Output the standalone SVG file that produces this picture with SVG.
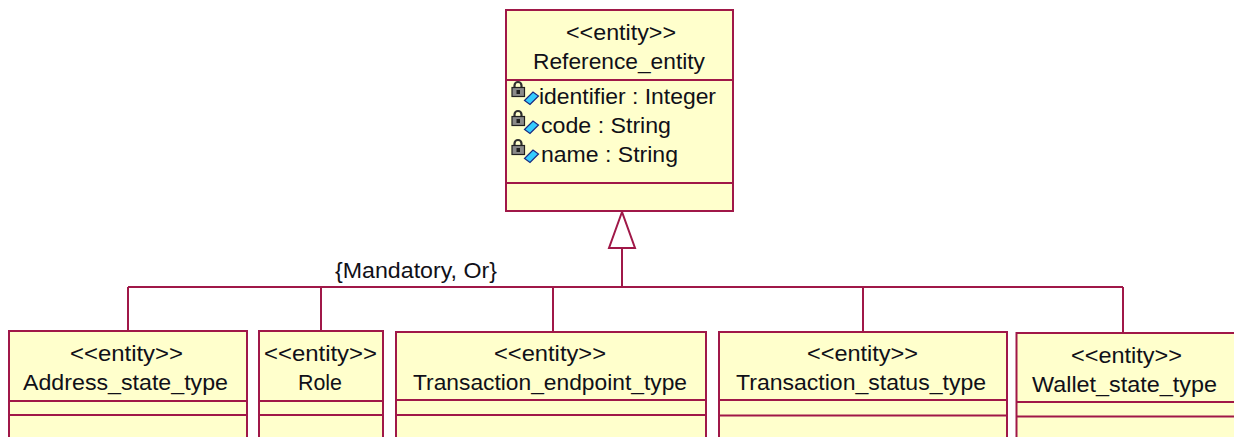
<svg xmlns="http://www.w3.org/2000/svg" xmlns:xlink="http://www.w3.org/1999/xlink" width="1234" height="437" viewBox="0 0 1234 437">
<style>
.box{fill:#FFFFCC;stroke:#A01848;stroke-width:2}
.div{stroke:#A01848;stroke-width:2;fill:none}
.con{stroke:#A01848;stroke-width:2;fill:none}
.t{font-family:"Liberation Sans",Arial,sans-serif;font-size:22px;fill:#101018}
</style>
<defs>
<g id="attrIcon">
<path d="M2.5,8 V4.5 a3.5,3.5 0 0 1 7,0 V8" fill="none" stroke="#303030" stroke-width="2.2"/>
<rect x="0" y="6.5" width="12.5" height="9" fill="#8a8a8a" stroke="#202020" stroke-width="1.2"/>
<rect x="4.5" y="9" width="3.5" height="4" fill="#202020"/>
<polygon points="12.5,19.5 21,11 26.5,15 18,23.5" fill="#33CCFF" stroke="#1a2a80" stroke-width="1.2"/>
</g>
</defs>

<g id="connectors">
<polygon points="622,212 609,248 635,248" fill="#FFFFFF" stroke="#A01848" stroke-width="2"/>
<line class="con" x1="622" y1="248" x2="622" y2="287"/>
<line class="con" x1="128" y1="287" x2="1123" y2="287"/>
<line class="con" x1="128" y1="287" x2="128" y2="331"/>
<line class="con" x1="321" y1="287" x2="321" y2="331"/>
<line class="con" x1="553" y1="287" x2="553" y2="332"/>
<line class="con" x1="863" y1="287" x2="863" y2="332"/>
<line class="con" x1="1123" y1="287" x2="1123" y2="333"/>
<text class="t" x="335" y="278" textLength="162" lengthAdjust="spacingAndGlyphs">{Mandatory, Or}</text>
</g>

<g id="Reference_entity">
<rect class="box" x="506" y="10" width="227" height="201"/>
<line class="div" x1="506" y1="80" x2="733" y2="80"/>
<line class="div" x1="506" y1="183" x2="733" y2="183"/>
<text class="t" x="566" y="40" textLength="110" lengthAdjust="spacingAndGlyphs">&lt;&lt;entity&gt;&gt;</text>
<text class="t" x="533" y="69" textLength="172" lengthAdjust="spacingAndGlyphs">Reference_entity</text>
<use xlink:href="#attrIcon" x="512" y="81"/>
<use xlink:href="#attrIcon" x="512" y="110"/>
<use xlink:href="#attrIcon" x="512" y="139"/>
<text class="t" x="539" y="104" textLength="177" lengthAdjust="spacingAndGlyphs">identifier : Integer</text>
<text class="t" x="541" y="133" textLength="130" lengthAdjust="spacingAndGlyphs">code : String</text>
<text class="t" x="541" y="162" textLength="137" lengthAdjust="spacingAndGlyphs">name : String</text>
</g>

<g id="Address_state_type">
<rect class="box" x="9" y="331" width="238" height="120"/>
<line class="div" x1="9" y1="401" x2="247" y2="401"/>
<line class="div" x1="9" y1="415" x2="247" y2="415"/>
<text class="t" x="70" y="361" textLength="113" lengthAdjust="spacingAndGlyphs">&lt;&lt;entity&gt;&gt;</text>
<text class="t" x="23" y="390" textLength="205" lengthAdjust="spacingAndGlyphs">Address_state_type</text>
</g>

<g id="Role">
<rect class="box" x="259" y="331" width="124" height="120"/>
<line class="div" x1="259" y1="401" x2="383" y2="401"/>
<line class="div" x1="259" y1="415" x2="383" y2="415"/>
<text class="t" x="264" y="361" textLength="113" lengthAdjust="spacingAndGlyphs">&lt;&lt;entity&gt;&gt;</text>
<text class="t" x="298" y="390" textLength="44" lengthAdjust="spacingAndGlyphs">Role</text>
</g>

<g id="Transaction_endpoint_type">
<rect class="box" x="396" y="332" width="310" height="120"/>
<line class="div" x1="396" y1="400" x2="706" y2="400"/>
<line class="div" x1="396" y1="415" x2="706" y2="415"/>
<text class="t" x="494" y="361" textLength="112" lengthAdjust="spacingAndGlyphs">&lt;&lt;entity&gt;&gt;</text>
<text class="t" x="413" y="390" textLength="274" lengthAdjust="spacingAndGlyphs">Transaction_endpoint_type</text>
</g>

<g id="Transaction_status_type">
<rect class="box" x="719" y="332" width="288" height="120"/>
<line class="div" x1="719" y1="400" x2="1007" y2="400"/>
<line class="div" x1="719" y1="415.5" x2="1007" y2="415.5"/>
<text class="t" x="807" y="361" textLength="111" lengthAdjust="spacingAndGlyphs">&lt;&lt;entity&gt;&gt;</text>
<text class="t" x="736" y="390" textLength="250" lengthAdjust="spacingAndGlyphs">Transaction_status_type</text>
</g>

<g id="Wallet_state_type">
<rect class="box" x="1016.5" y="333" width="240" height="120"/>
<line class="div" x1="1016.5" y1="402" x2="1240" y2="402"/>
<line class="div" x1="1016.5" y1="416.5" x2="1240" y2="416.5"/>
<text class="t" x="1071" y="363" textLength="111" lengthAdjust="spacingAndGlyphs">&lt;&lt;entity&gt;&gt;</text>
<text class="t" x="1032" y="392" textLength="185" lengthAdjust="spacingAndGlyphs">Wallet_state_type</text>
</g>
</svg>
